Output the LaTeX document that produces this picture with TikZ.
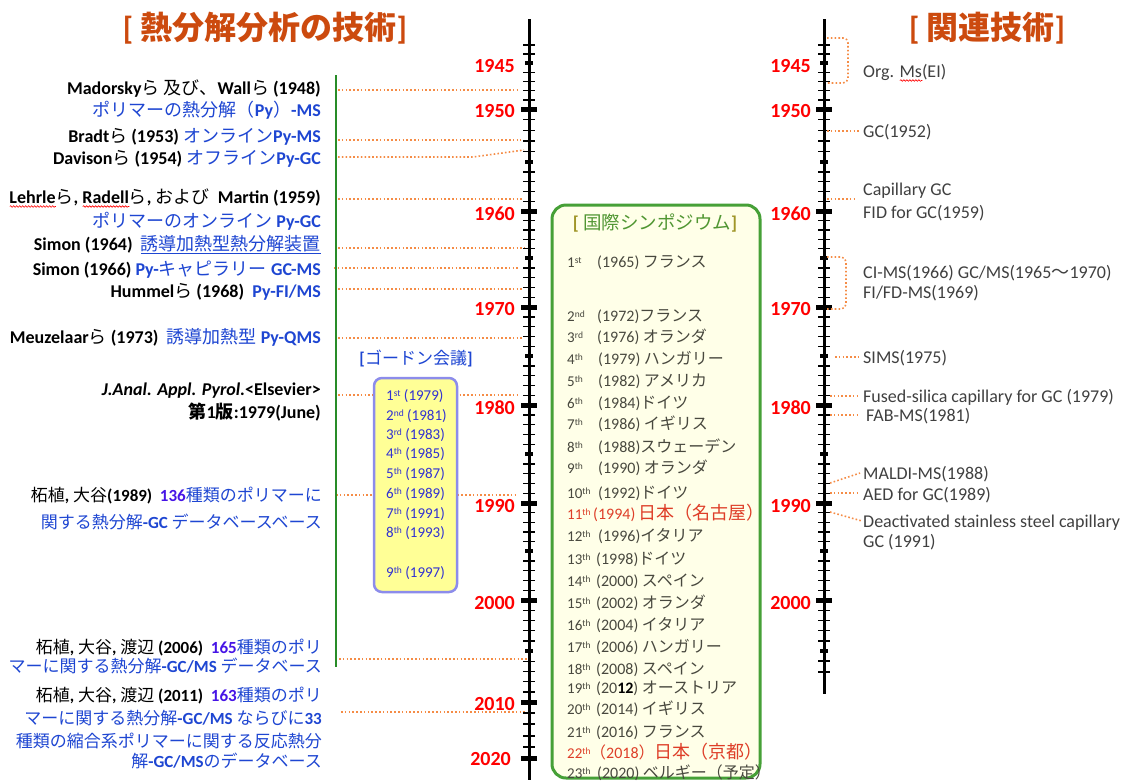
\documentclass[tikz,border=0pt]{standalone}
\usepackage{fontspec}
\usetikzlibrary{decorations.pathmorphing}
\setmainfont{Carlito}
\newfontfamily\latf{Carlito}
\newfontfamily\cjkf{Noto Sans CJK JP}
\newcount\jcnt
\XeTeXinterchartokenstate=1
\newXeTeXintercharclass\jclass
\jcnt="3000
\loop\ifnum\jcnt<"A000 \XeTeXcharclass\jcnt=\jclass\relax \advance\jcnt by 1 \repeat
\jcnt="FF00
\loop\ifnum\jcnt<"FFF0 \XeTeXcharclass\jcnt=\jclass\relax \advance\jcnt by 1 \repeat
\XeTeXinterchartoks 0 \jclass = {\cjkf}
\XeTeXinterchartoks 4095 \jclass = {\cjkf}
\XeTeXinterchartoks \jclass 0 = {\latf}
\XeTeXinterchartoks \jclass 4095 = {\latf}
\newsavebox\wbox
\newcommand\redwave[1]{\sbox\wbox{#1}\rlap{\begin{tikzpicture}[baseline=0pt,x=1pt,y=1pt]\draw[red,line width=0.6pt,decorate,decoration={snake,amplitude=0.8pt,segment length=3pt}] (0pt,-3pt) -- (\the\wd\wbox,-3pt);\end{tikzpicture}}\usebox\wbox}
\newcommand\ordn[2]{#1\raisebox{4pt}{\fontsize{9.5}{10}\selectfont #2}}
\definecolor{titleor}{RGB}{204,74,14}
\definecolor{yearred}{RGB}{255,0,0}
\definecolor{ltblue}{RGB}{30,70,210}
\definecolor{numpurple}{RGB}{70,20,230}
\definecolor{dotor}{RGB}{245,140,70}
\definecolor{gline}{RGB}{40,140,40}
\definecolor{gboxd}{RGB}{70,160,55}
\definecolor{gboxf}{RGB}{255,255,232}
\definecolor{ghead}{RGB}{80,150,50}
\definecolor{gbrk}{RGB}{160,150,40}
\definecolor{yboxf}{RGB}{255,255,150}
\definecolor{yboxd}{RGB}{140,140,235}
\definecolor{yblue}{RGB}{50,50,210}
\definecolor{rgray}{RGB}{64,64,64}
\definecolor{egray}{RGB}{72,72,62}
\definecolor{ered}{RGB}{222,62,40}
\tikzset{
 lt/.style={anchor=base east, inner sep=0pt, font=\fontsize{18}{20}\selectfont},
 ltb/.style={anchor=base east, inner sep=0pt, font=\fontsize{17}{19}\selectfont},
 rt/.style={anchor=base west, inner sep=0pt, text=rgray, font=\fontsize{18}{20}\selectfont},
 yrlab/.style={anchor=base east, inner sep=0pt, text=yearred, font=\fontsize{20}{22}\selectfont\bfseries},
 titl/.style={inner sep=0pt, text=titleor, font=\fontsize{32}{34}\selectfont\bfseries},
 orangedots/.style={draw=dotor, line width=1.6pt, dash pattern=on 1.6pt off 2.2pt},
 axisline/.style={line width=3pt, draw=black},
 tminor/.style={line width=1.4pt, draw=black},
 tmed/.style={line width=3.5pt, draw=black},
 tmajor/.style={line width=5pt, draw=black},
 ent/.style={anchor=base west, inner sep=0pt, text=egray, font=\fontsize{16}{18}\selectfont},
 entred/.style={anchor=base west, inner sep=0pt, text=ered, font=\fontsize{16}{18}\selectfont},
 eord/.style={anchor=base west, inner sep=0pt, text=egray, font=\fontsize{15}{17}\selectfont},
 eordred/.style={anchor=base west, inner sep=0pt, text=ered, font=\fontsize{15}{17}\selectfont},
 ytx/.style={anchor=base west, inner sep=0pt, text=yblue, font=\fontsize{15}{17}\selectfont},
}
\begin{document}
\begin{tikzpicture}[x=1pt,y=-1pt]
\useasboundingbox (0,0) rectangle (1122,780);
\fill[white] (0,0) rectangle (1122,780);

% titles
\node[titl] (t1) at (265,28) {[ 熱分解分析の技術]};
\node[titl] (t2) at (987,28) {[ 関連技術]};

% green symposium box
\node[draw=gboxd, fill=gboxf, line width=3pt, rounded corners=14pt, minimum width=208pt, minimum height=573pt, inner sep=0pt] (gb) at (656,491.5) {};
\node[inner sep=0pt, text=ghead, font=\fontsize{18.5}{20}\selectfont] (gh) at (655,223) {\textcolor{gbrk}{\textbf{[}} 国際シンポジウム\textcolor{gbrk}{\textbf{]}}};

% left connectors (behind yellow box)
\foreach \n/\xa/\ya/\xb/\yb in {a/338/90/519/90, b/338/140/521/140, d/338/199/523/199, e/338/248/525/248, f/334/268/518/268, g/338/289/522/289, h/338/338/524/338, i/338/395/518/395, j/336/495/518/495, k/339/659/527/659, l/341/712/527/712}{
  \coordinate (L\n1) at (\xa,\ya);
  \coordinate (L\n2) at (\xb,\yb);
  \draw[orangedots] (L\n1) -- (L\n2);
}
\coordinate (Lc1) at (338,157);
\coordinate (Lc2) at (473,157);
\coordinate (Lc3) at (524,150);
\draw[orangedots] (Lc1) -- (Lc2) -- (Lc3);

% green vertical line
\coordinate (gtop) at (336,75);
\coordinate (gbot) at (336,667);
\draw[gline, line width=1.2pt] (gtop) -- (gbot);

% yellow Gordon box
\node[inner sep=0pt, text=ltblue, font=\fontsize{17}{19}\selectfont] (gordon) at (416,358) {\textbf{[}ゴードン会議\textbf{]}};
\node[draw=yboxd, fill=yboxf, line width=2.5pt, rounded corners=8pt, minimum width=83pt, minimum height=214pt, inner sep=0pt] (yb) at (415.5,485) {};
\node[ytx] (y1) at (386,400) {\ordn{1}{st} (1979)};
\node[ytx] (y2) at (386,420) {\ordn{2}{nd} (1981)};
\node[ytx] (y3) at (386,439) {\ordn{3}{rd} (1983)};
\node[ytx] (y4) at (386,458) {\ordn{4}{th} (1985)};
\node[ytx] (y5) at (386,478) {\ordn{5}{th} (1987)};
\node[ytx] (y6) at (386,498) {\ordn{6}{th} (1989)};
\node[ytx] (y7) at (386,518) {\ordn{7}{th} (1991)};
\node[ytx] (y8) at (386,537) {\ordn{8}{th} (1993)};
\node[ytx] (y9) at (386,577) {\ordn{9}{th} (1997)};

% axes
\coordinate (ax1top) at (529,19);
\coordinate (ax1bot) at (529,780);
\coordinate (ax2top) at (824,19);
\coordinate (ax2bot) at (824,694);
\draw[axisline] (ax1top) -- (ax1bot);
\draw[axisline] (ax2top) -- (ax2bot);
\foreach \ax/\last in {529/702,824/651}{
  \foreach \yy in {45,54} \draw[tminor] (\ax-6,\yy) -- (\ax+6,\yy);
  \foreach \ya/\yb/\big in {63/109/0, 109/162/1, 162/211/0, 211/258/1, 258/307/0, 307/356/1, 356/405/0, 405/454/1, 454/503/0, 503/551/1, 551/600/0, 600/651/1, 651/702/0}{
    \ifdim \ya pt<\last pt
      \ifnum\big=1 \draw[tmajor] (\ax-8,\ya) -- (\ax+8,\ya);
      \else \draw[tmed] (\ax-4,\ya) -- (\ax+4,\ya); \fi
      \foreach \k in {1,...,4}{\draw[tminor] (\ax-6,{\ya+(\yb-\ya)*\k/5}) -- (\ax+6,{\ya+(\yb-\ya)*\k/5});}
    \fi
  }
}
\draw[tmed] (820,651) -- (828,651);
\foreach \yy in {661,672} \draw[tminor] (818,\yy) -- (830,\yy);
\draw[tmajor] (521,702) -- (537,702);
\foreach \yy in {713,724,736,747} \draw[tminor] (523,\yy) -- (535,\yy);
\draw[tmajor] (521,758) -- (537,758);

% year labels
\foreach \yr/\yy in {1945/72,1950/117,1960/220,1970/315,1980/414,1990/512,2000/609,2010/710}
  \node[yrlab] (ly\yr) at (515,\yy) {\yr};
\node[yrlab] (ly2020) at (511,765) {2020};
\foreach \yr/\yy in {1945/72,1950/117,1960/220,1970/315,1980/414,1990/512,2000/609}
  \node[yrlab] (ry\yr) at (811,\yy) {\yr};

% left texts
\node[lt] (l1) at (321,94.5) {\textbf{Madorsky}ら 及び、\textbf{Wall}ら \textbf{(1948)}};
\node[lt] (l2) at (321,116.5) {\textcolor{ltblue}{ポリマーの熱分解（\textbf{Py}）\textbf{-MS}}};
\node[lt] (l3) at (321,142.5) {\textbf{Bradt}ら \textbf{(1953)}\ \textcolor{ltblue}{オンライン\textbf{Py-MS}}};
\node[lt] (l4) at (321,164.5) {\textbf{Davison}ら \textbf{(1954)}\ \textcolor{ltblue}{オフライン\textbf{Py-GC}}};
\node[lt] (l5) at (321,203.5) {\textbf{\redwave{Lehrle}}ら\textbf{, \redwave{Radell}}ら\textbf{,} および\ \ \textbf{Martin (1959)}};
\node[lt] (l6) at (321,227.5) {\textcolor{ltblue}{ポリマーのオンライン \textbf{Py-GC}}};
\node[lt] (l7) at (321,250.5) {\textbf{Simon (1964)}\ \ \textcolor{ltblue}{\underline{誘導加熱型熱分解装置}}};
\node[lt] (l8) at (321,275.5) {\textbf{Simon (1966)} \textcolor{ltblue}{\textbf{Py-}キャピラリー \textbf{GC-MS}}};
\node[lt] (l9) at (321,297.5) {\textbf{Hummel}ら \textbf{(1968)}\ \ \textcolor{ltblue}{\textbf{Py-FI/MS}}};
\node[lt] (l10) at (321,343.5) {\textbf{Meuzelaar}ら \textbf{(1973)}\ \ \textcolor{ltblue}{誘導加熱型 \textbf{Py-QMS}}};
\node[lt] (l11) at (321,395.5) {\textbf{\textit{J.Anal. Appl. Pyrol.}<Elsevier>}};
\node[lt] (l12) at (321,418.5) {\textbf{第1版:1979(June)}};
\node[ltb] (l13) at (322,501) {柘植\textbf{,} 大谷\textbf{(1989)}\ \ \textcolor{numpurple}{\textbf{136}}\textcolor{ltblue}{種類のポリマーに}};
\node[ltb] (l14) at (322,528) {\textcolor{ltblue}{関する熱分解\textbf{-GC} データベースベース}};
\node[ltb] (l15) at (322,653) {柘植\textbf{,} 大谷\textbf{,} 渡辺 \textbf{(2006)}\ \ \textcolor{numpurple}{\textbf{165}}\textcolor{ltblue}{種類のポリ}};
\node[ltb] (l16) at (322,672) {\textcolor{ltblue}{マーに関する熱分解\textbf{-GC/MS} データベース}};
\node[ltb] (l17) at (322,701) {柘植\textbf{,} 大谷\textbf{,} 渡辺 \textbf{(2011)}\ \ \textcolor{numpurple}{\textbf{163}}\textcolor{ltblue}{種類のポリ}};
\node[ltb] (l18) at (322,724) {\textcolor{ltblue}{マーに関する熱分解\textbf{-GC/MS} ならびに\textbf{33}}};
\node[ltb] (l19) at (322,747) {\textcolor{ltblue}{種類の縮合系ポリマーに関する反応熱分}};
\node[ltb] (l20) at (322,767) {\textcolor{ltblue}{解\textbf{-GC/MS}のデータベース}};

% symposium entries
\node[eord] (o1) at (567,267) {\ordn{1}{st}};   \node[ent] (e1) at (597,267) {(1965) フランス};
\node[eord] (o2) at (567,321) {\ordn{2}{nd}};   \node[ent] (e2) at (597,321) {(1972)フランス};
\node[eord] (o3) at (567,342) {\ordn{3}{rd}};   \node[ent] (e3) at (597,342) {(1976) オランダ};
\node[eord] (o4) at (567,364) {\ordn{4}{th}};   \node[ent] (e4) at (598,364) {(1979) ハンガリー};
\node[eord] (o5) at (567,386) {\ordn{5}{th}};   \node[ent] (e5) at (598,386) {(1982) アメリカ};
\node[eord] (o6) at (567,408) {\ordn{6}{th}};   \node[ent] (e6) at (598,408) {(1984)ドイツ};
\node[eord] (o7) at (567,429) {\ordn{7}{th}};   \node[ent] (e7) at (598,429) {(1986) イギリス};
\node[eord] (o8) at (567,452) {\ordn{8}{th}};   \node[ent] (e8) at (598,452) {(1988)スウェーデン};
\node[eord] (o9) at (567,473) {\ordn{9}{th}};   \node[ent] (e9) at (598,473) {(1990) オランダ};
\node[eord] (o10) at (567,498) {\ordn{10}{th}}; \node[ent] (e10) at (598,498) {(1992)ドイツ};
\node[eordred] (o11) at (567,519) {\ordn{11}{th}}; \node[entred] (e11) at (593,519) {(1994)\ {\fontsize{18}{20}\selectfont 日本（名古屋）}};
\node[eord] (o12) at (567,541) {\ordn{12}{th}}; \node[ent] (e12) at (598,541) {(1996)イタリア};
\node[eord] (o13) at (567,564) {\ordn{13}{th}}; \node[ent] (e13) at (596,564) {(1998)ドイツ};
\node[eord] (o14) at (567,586) {\ordn{14}{th}}; \node[ent] (e14) at (596,586) {(2000) スペイン};
\node[eord] (o15) at (567,608) {\ordn{15}{th}}; \node[ent] (e15) at (596,608) {(2002) オランダ};
\node[eord] (o16) at (567,630) {\ordn{16}{th}}; \node[ent] (e16) at (596,630) {(2004) イタリア};
\node[eord] (o17) at (567,652) {\ordn{17}{th}}; \node[ent] (e17) at (596,652) {(2006) ハンガリー};
\node[eord] (o18) at (567,674) {\ordn{18}{th}}; \node[ent] (e18) at (596,674) {(2008) スペイン};
\node[eord] (o19) at (567,693) {\ordn{19}{th}}; \node[ent] (e19) at (596,693) {(20\textbf{\textcolor{black}{12}}) オーストリア};
\node[eord] (o20) at (567,714) {\ordn{20}{th}}; \node[ent] (e20) at (596,714) {(2014) イギリス};
\node[eord] (o21) at (567,737) {\ordn{21}{th}}; \node[ent] (e21) at (596,737) {(2016) フランス};
\node[eordred] (o22) at (567,758) {\ordn{22}{th}}; \node[entred] (e22) at (590,758) {（2018）{\fontsize{18}{20}\selectfont 日本（京都）}};
\node[eord] (o23) at (567,778) {\ordn{23}{th}}; \node[ent] (e23) at (597,778) {(2020) ベルギー（予定）};

% right texts
\node[rt] (r1) at (863,77.5) {Org. \redwave{Ms}(EI)};
\node[rt] (r2) at (863,137.5) {GC(1952)};
\node[rt] (r3) at (863,195.5) {Capillary GC};
\node[rt] (r4) at (863,218.5) {FID for GC(1959)};
\node[rt] (r5) at (863,278.5) {CI-MS(1966) GC/MS(1965〜1970)};
\node[rt] (r6) at (863,298.5) {FI/FD-MS(1969)};
\node[rt] (r7) at (863,363.5) {SIMS(1975)};
\node[rt] (r8) at (863,402.5) {Fused-silica capillary for GC (1979)};
\node[rt] (r9) at (866,421.5) {FAB-MS(1981)};
\node[rt] (r10) at (863,479.5) {MALDI-MS(1988)};
\node[rt] (r11) at (863,500.5) {AED for GC(1989)};
\node[rt] (r12) at (863,527.5) {Deactivated stainless steel capillary};
\node[rt] (r13) at (863,547.5) {GC (1991)};

% right connectors
\coordinate (R1a) at (827,38); \coordinate (R1b) at (848,38); \coordinate (R1c) at (848,83); \coordinate (R1d) at (827,83);
\draw[orangedots, rounded corners=5pt] (R1a) -- (R1b) -- (R1c) -- (R1d);
\coordinate (R5a) at (827,257); \coordinate (R5b) at (846,257); \coordinate (R5c) at (846,309); \coordinate (R5d) at (827,309);
\draw[orangedots, rounded corners=5pt] (R5a) -- (R5b) -- (R5c) -- (R5d);
\foreach \n/\xa/\ya/\xb/\yb in {2/827/131/860/131, 3/827/199/857/199, 7/835/357/860/357, 8/830/396/860/396, 9/830/415/857/415, 10/830/483/860/473, 11/830/493/857/493, 12/830/512/862/521}{
  \coordinate (R\n a) at (\xa,\ya);
  \coordinate (R\n b) at (\xb,\yb);
  \draw[orangedots] (R\n a) -- (R\n b);
}
\end{tikzpicture}
\end{document}
